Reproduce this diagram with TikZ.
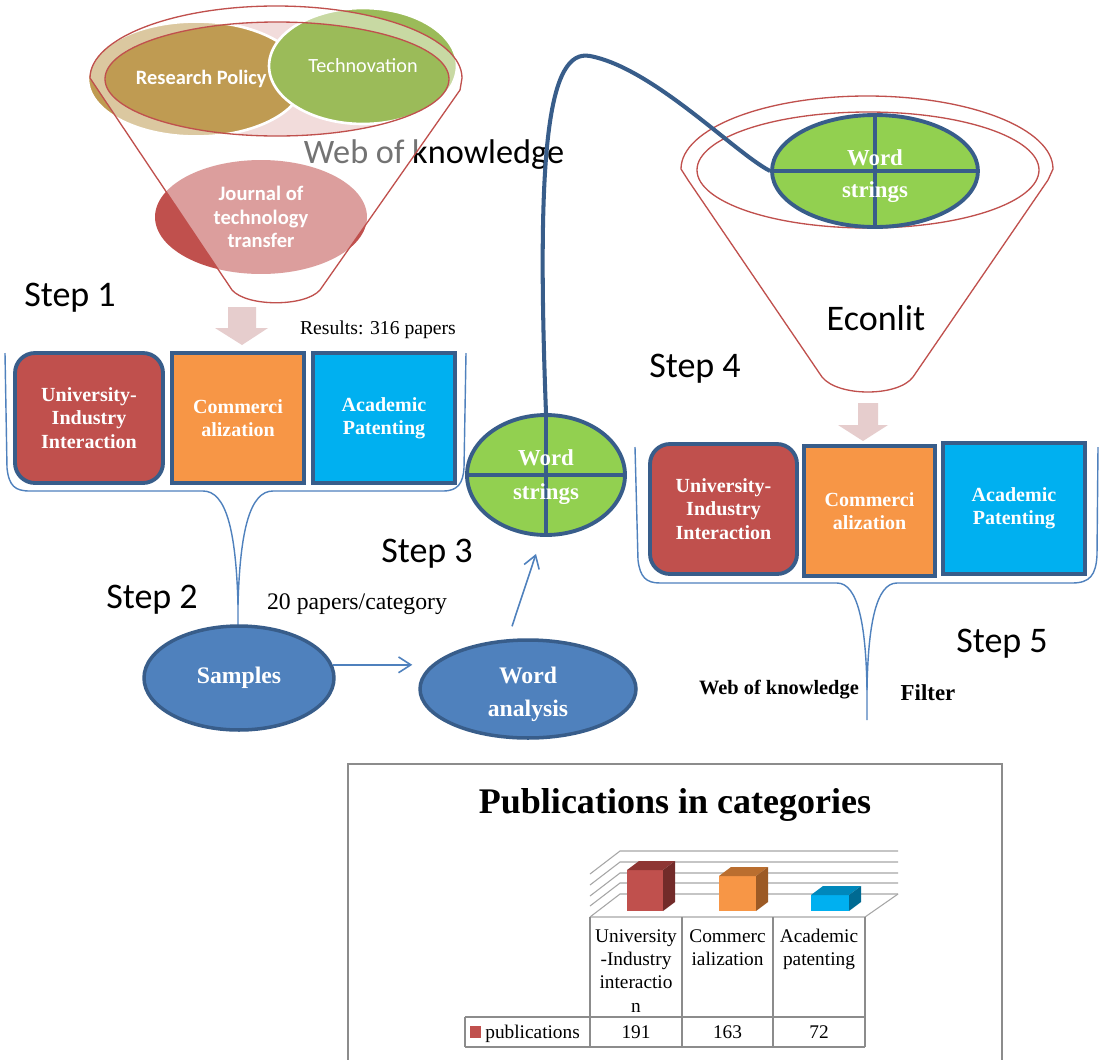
\documentclass[tikz,border=0pt]{standalone}
\usepackage{fontspec}
\setmainfont{Liberation Serif}
\newfontfamily\calfont{Carlito}
\usetikzlibrary{shapes.geometric,arrows.meta}
\definecolor{dkblue}{HTML}{385D8A}
\definecolor{lblue}{HTML}{4F81BD}
\definecolor{fred}{HTML}{C0504D}
\definecolor{cred}{HTML}{C0504D}
\definecolor{corange}{HTML}{F79646}
\definecolor{ccyan}{HTML}{00B0F0}
\definecolor{cgreen}{HTML}{92D050}
\definecolor{ctan}{HTML}{BF9B52}
\definecolor{colive}{HTML}{9BBB59}
\definecolor{pinkbg}{HTML}{F2DCDB}
\definecolor{barrow}{HTML}{E6CDCD}
\definecolor{gridg}{HTML}{A6A6A6}
\definecolor{frameg}{HTML}{8C8C8C}
\definecolor{topred}{HTML}{8E3634}
\definecolor{sidered}{HTML}{722B29}
\definecolor{toporange}{HTML}{BA6E2F}
\definecolor{sideorange}{HTML}{9C5A25}
\definecolor{topcyan}{HTML}{0088BB}
\definecolor{sidecyan}{HTML}{006A92}
\begin{document}
\begin{tikzpicture}[x=0.02cm,y=-0.02cm,
  steplabel/.style={font=\calfont\fontsize{20.5}{24}\selectfont, anchor=base, inner sep=0pt},
  boxtext/.style={font=\bfseries\fontsize{11.4}{13.3}\selectfont, text=white, align=center},
  catbox/.style={draw=dkblue, line width=2.2pt, minimum height=2.6cm, inner sep=0pt, boxtext},
  wsnode/.style={ellipse, fill=cgreen, draw=dkblue, line width=2.2pt, inner sep=0pt},
  wstext/.style={inner sep=0pt, font=\bfseries\fontsize{13}{19}\selectfont, text=white, align=center},
  blueell/.style={ellipse, fill=lblue, draw=dkblue, line width=2pt, inner sep=0pt,
     font=\bfseries\fontsize{13.5}{18.7}\selectfont, text=white, align=center},
  bluetext/.style={inner sep=0pt, font=\bfseries\fontsize{13.5}{18.7}\selectfont, text=white, align=center},
  brk/.style={lblue, line width=0.8pt},
  funnelline/.style={fred, line width=0.75pt},
  arr/.style={lblue, line width=0.9pt, -{Straight Barb[length=7pt,width=9pt]}},
  serifsmall/.style={font=\fontsize{11.2}{13}\selectfont, anchor=base, inner sep=0pt},
  tbl/.style={frameg, line width=0.7pt},
  tbltext/.style={font=\fontsize{11}{13}\selectfont, anchor=base, inner sep=0pt}
]
\useasboundingbox (0,0) rectangle (1099,1059);
\fill[white] (0,0) rectangle (1099,1059);

% ---------------- Left funnel (Web of knowledge) ----------------
\node[font=\calfont\fontsize{19.5}{23}\selectfont, anchor=base, inner sep=0pt] (wok) at (434,163) {Web of knowledge};
\node[ellipse, fill=cred, inner sep=0pt, minimum width=4.24cm, minimum height=2.28cm,
      font=\calfont\bfseries\fontsize{11.7}{13.2}\selectfont, text=white, align=center] (jtt) at (261,217) {Journal of\\technology\\transfer};
\fill[pinkbg] (277,79) ellipse [x radius=172, y radius=57];
\node[ellipse, fill=ctan, draw=white, line width=1.5pt, inner sep=0pt, minimum width=4.32cm, minimum height=2.3cm,
      font=\calfont\bfseries\fontsize{11.6}{14}\selectfont, text=white] (rp) at (196,79) {\hspace*{6pt}Research Policy};
\node[ellipse, fill=colive, draw=white, line width=1.5pt, inner sep=0pt, minimum width=3.76cm, minimum height=2.32cm,
      font=\calfont\fontsize{11.5}{14}\selectfont, text=white] (tech) at (363,66) {Technovation};
% translucent funnel body and rim
\fill[white, opacity=0.45, even odd rule]
  (98,90) -- (90,78) arc[start angle=180, end angle=360, x radius=186, y radius=72]
  -- (460,90) -- (320,290) .. controls (305,307) and (247,307) .. (232,290) -- cycle
  (277,79) ellipse [x radius=172, y radius=57];
\draw[funnelline]
  (98,90) -- (90,78) arc[start angle=180, end angle=360, x radius=186, y radius=72]
  -- (460,90) -- (320,290) .. controls (305,307) and (247,307) .. (232,290) -- cycle;
\draw[funnelline] (277,79) ellipse [x radius=172, y radius=57];

% ---------------- Right funnel (Econlit) ----------------
\draw[funnelline]
  (688,180) -- (681,169) arc[start angle=180, end angle=360, x radius=186, y radius=73]
  -- (1048,180) -- (913,377) .. controls (898,397) and (838,397) .. (822,377) -- cycle;
\draw[funnelline] (868,170) ellipse [x radius=171, y radius=58];
\node[wsnode, minimum width=4.12cm, minimum height=2.24cm] (ws2) at (875,171) {};
\draw[dkblue, line width=1.8pt] (ws2.north) -- (ws2.south);
\draw[dkblue, line width=1.8pt] (ws2.west) -- (ws2.east);
\node[wstext, font=\bfseries\fontsize{13}{18.3}\selectfont] (ws2t) at (875,176) {Word\\strings};
\node[steplabel] (econ) at (876,330) {Econlit};

% ---------------- Step labels and notes ----------------
\node[steplabel] (s1) at (70,306) {Step 1};
\node[steplabel] (s2) at (152,608) {Step 2};
\node[steplabel] (s3) at (427,562) {Step 3};
\node[steplabel] (s4) at (695,377) {Step 4};
\node[steplabel] (s5) at (1002,652) {Step 5};
\node[serifsmall] (res) at (378,334) {Results: 316 papers};
\node[font=\fontsize{13.5}{16}\selectfont, anchor=base, inner sep=0pt] (ppc) at (357,609) {20 papers/category};

% block arrows
\fill[barrow] (228,307) -- (256,307) -- (256,328) -- (268,328) -- (242,345) -- (215,328) -- (228,328) -- cycle;
\fill[barrow] (858,403) -- (878,403) -- (878,425) -- (888,425) -- (863,441) -- (838,425) -- (858,425) -- cycle;

% ---------------- Left category boxes ----------------
\node[catbox, fill=cred, rounded corners=0.4cm, minimum width=2.96cm] (l1) at (89,418) {University-\\Industry\\Interaction};
\node[catbox, fill=corange, minimum width=2.64cm] (l2) at (238,418) {Commerci\\alization};
\node[catbox, fill=ccyan, minimum width=2.84cm] (l3) at (384,418) {Academic\\Patenting};

% left bracket
\draw[brk] (5,353) -- (7,468) .. controls (9,486) and (15,491) .. (30,491) -- (203,491)
  .. controls (226,491) and (236,530) .. (238,605) -- (238,627);
\draw[brk] (238,605) .. controls (240,530) and (250,491) .. (273,491) -- (443,491)
  .. controls (458,491) and (463,483) .. (464,468) -- (466,353);

% ---------------- Samples / word analysis / word strings ----------------
\node[blueell, minimum width=3.8cm, minimum height=2.08cm] (samples) at (239,678) {Samples};
\node[blueell, minimum width=4.32cm, minimum height=1.96cm] (wa) at (528,689) {};
\node[bluetext] (wat) at (528,694) {Word\\analysis};
\node[wsnode, minimum width=3.16cm, minimum height=2.4cm] (ws1) at (546,475) {};
\draw[dkblue, line width=1.8pt] (ws1.north) -- (ws1.south);
\draw[dkblue, line width=1.8pt] (ws1.west) -- (ws1.east);
\node[wstext] (ws1t) at (546,477) {Word\\strings};

\draw[arr] (samples.8) -- ([xshift=-0.12cm]samples.8 -| wa.west);
\draw[arr] ([xshift=-0.32cm,yshift=0.24cm]wa.north) -- ([xshift=-0.2cm,yshift=-0.34cm]ws1.south);

% long curve from word strings to Econlit funnel
\draw[dkblue, line width=2.3pt] (ws1.north) .. controls (536,150) and (548,48) .. (590,56)
  .. controls (653,68) and (735,153) .. (ws2.west);

% ---------------- Right category boxes ----------------
\node[catbox, fill=cred, rounded corners=0.4cm, minimum width=2.94cm] (r1) at (723.5,509) {University-\\Industry\\Interaction};
\node[catbox, fill=corange, minimum width=2.62cm] (r2) at (869.5,511) {Commerci\\alization};
\node[catbox, fill=ccyan, minimum width=2.84cm, minimum height=2.62cm] (r3) at (1014,508.5) {Academic\\Patenting};

% right bracket
\draw[brk] (635,447) -- (638,560) .. controls (640,577) and (646,583) .. (660,583) -- (837,583)
  .. controls (858,583) and (866,625) .. (867,690) -- (867,720);
\draw[brk] (867,690) .. controls (868,625) and (876,583) .. (897,583) -- (1072,583)
  .. controls (1090,583) and (1096,575) .. (1097,555) -- (1098,447);

\node[font=\bfseries\fontsize{11.6}{14}\selectfont, anchor=base, inner sep=0pt] (wok2) at (779,694) {Web of knowledge};
\node[font=\bfseries\fontsize{13}{15}\selectfont, anchor=base, inner sep=0pt] (filt) at (928,700) {Filter};

% ---------------- Chart ----------------
\draw[frameg, line width=0.9pt] (348,1065) -- (348,764) -- (1002,764) -- (1002,1065);
\node[font=\bfseries\fontsize{20.5}{24}\selectfont, anchor=base, inner sep=0pt] (ctitle) at (675,813) {Publications in categories};

% walls / floor
\foreach \yy in {851,862,873,883,894}
  \draw[gridg, line width=0.6pt] (590,\yy+23) -- (620,\yy) -- (898,\yy);
\draw[gridg, line width=0.6pt] (590,917) -- (865,917) -- (898,894);

% bars
\fill[cred] (627,870) rectangle (663,911);
\fill[topred] (627,870) -- (639,861) -- (675,861) -- (663,870) -- cycle;
\fill[sidered] (663,870) -- (675,861) -- (675,902) -- (663,911) -- cycle;
\fill[corange] (719,876) rectangle (756,911);
\fill[toporange] (719,876) -- (731,867) -- (768,867) -- (756,876) -- cycle;
\fill[sideorange] (756,876) -- (768,867) -- (768,902) -- (756,911) -- cycle;
\fill[ccyan] (811,895) rectangle (849,911);
\fill[topcyan] (811,895) -- (823,886) -- (861,886) -- (849,895) -- cycle;
\fill[sidecyan] (849,895) -- (861,886) -- (861,902) -- (849,911) -- cycle;

% table
\draw[tbl] (590,917) -- (590,1047);
\draw[tbl] (682,917) -- (682,1047);
\draw[tbl] (773,917) -- (773,1047);
\draw[tbl] (865,917) -- (865,1047);
\draw[tbl] (465,1017) -- (865,1017);
\draw[tbl] (465,1047) -- (865,1047);
\draw[tbl] (465,1017) -- (465,1047);

\node[tbltext] (c1a) at (636,942) {University};
\node[tbltext] (c1b) at (636,965) {-Industry};
\node[tbltext] (c1c) at (636,988) {interactio};
\node[tbltext] (c1d) at (636,1012) {n};
\node[tbltext] (c2a) at (727.5,942) {Commerc};
\node[tbltext] (c2b) at (727.5,965) {ialization};
\node[tbltext] (c3a) at (819,942) {Academic};
\node[tbltext] (c3b) at (819,965) {patenting};
\fill[cred] (470,1026) rectangle (481,1038);
\node[tbltext, anchor=base west] (leg) at (485,1038) {publications};
\node[tbltext] (v1) at (636,1038) {191};
\node[tbltext] (v2) at (727.5,1038) {163};
\node[tbltext] (v3) at (819,1038) {72};
\end{tikzpicture}
\end{document}
